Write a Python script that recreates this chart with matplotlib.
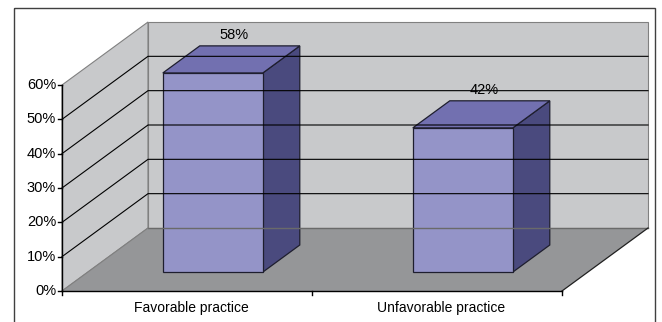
import matplotlib.pyplot as plt
from matplotlib.patches import Polygon, Rectangle

plt.rcParams['font.family'] = ['Liberation Sans', 'DejaVu Sans']

# datos
categorias = ['Favorable practice', 'Unfavorable practice']
valores = [58, 42]
ticks_y = [0, 10, 20, 30, 40, 50, 60]
etiquetas_y = ['0%', '10%', '20%', '30%', '40%', '50%', '60%']

# geometria del grafico 3D (pixeles)
x0, x1 = 62, 562          # eje frontal
y_piso = 291              # 0% frontal
esc = 206 / 60.0          # pixeles por %
prof = (86, -63)          # desplazamiento en profundidad
ymax = 60


def P(xc, v, d):
    # xc en unidades de categoria (0..2), v en %, d profundidad 0..1
    px = x0 + xc * (x1 - x0) / len(categorias) + d * prof[0]
    py = y_piso - v * esc + d * prof[1]
    return (px, py)


fig = plt.figure(figsize=(6.62, 3.22), dpi=100)
ax = fig.add_axes([0, 0, 1, 1])
ax.set_xlim(0, 662)
ax.set_ylim(322, 0)
ax.axis('off')

pared = '#c8c9cb'
piso = '#959698'
borde = '#808080'
n = len(categorias)

# marco exterior
ax.add_patch(Rectangle((14, 8), 641, 330, fill=False, ec='#404040', lw=1.0))

# pared izquierda
ax.add_patch(Polygon([P(0, 0, 0), P(0, ymax, 0), P(0, ymax, 1), P(0, 0, 1)],
                     fc=pared, ec=borde, lw=0.8))
# pared del fondo
ax.add_patch(Polygon([P(0, 0, 1), P(0, ymax, 1), P(n, ymax, 1), P(n, 0, 1)],
                     fc=pared, ec=borde, lw=0.8))

# grilla
for t in ticks_y[1:-1]:
    a, b, c = P(0, t, 0), P(0, t, 1), P(n, t, 1)
    ax.plot([a[0], b[0], c[0]], [a[1], b[1], c[1]], color='black', lw=0.8)

# piso
ax.add_patch(Polygon([P(0, 0, 0), P(n, 0, 0), P(n, 0, 1), P(0, 0, 1)],
                     fc=piso, ec='none'))
a, b = P(0, 0, 1), P(n, 0, 1)
ax.plot([a[0], b[0]], [a[1], b[1]], color='#6a6a6a', lw=1.0)
a, b = P(0, 0, 0), P(0, 0, 1)
ax.plot([a[0], b[0]], [a[1], b[1]], color=borde, lw=0.8)
a, b = P(n, 0, 0), P(n, 0, 1)
ax.plot([a[0], b[0]], [a[1], b[1]], color='#202020', lw=0.9)

# ejes
a, b = P(0, 0, 0), P(0, ymax, 0)
ax.plot([a[0], b[0]], [a[1], b[1]], color='black', lw=1.0)
a, b = P(0, 0, 0), P(n, 0, 0)
ax.plot([a[0], b[0]], [a[1], b[1]], color='black', lw=1.0)
for t, lab in zip(ticks_y, etiquetas_y):
    px, py = P(0, t, 0)
    ax.plot([px - 4, px], [py, py], color='black', lw=1.0)
    ax.text(px - 6, py, lab, ha='right', va='center', fontsize=10.5)
for i in range(n + 1):
    px, py = P(i, 0, 0)
    ax.plot([px, px], [py, py + 4], color='black', lw=1.0)

# barras
d0, d1 = 0.3, 0.73
for i, (v, cat) in enumerate(zip(valores, categorias)):
    xa, xb = i + 0.3, i + 0.7
    lado = [P(xb, 0, d0), P(xb, v, d0), P(xb, v, d1), P(xb, 0, d1)]
    techo = [P(xa, v, d0), P(xb, v, d0), P(xb, v, d1), P(xa, v, d1)]
    frente = [P(xa, 0, d0), P(xb, 0, d0), P(xb, v, d0), P(xa, v, d0)]
    ax.add_patch(Polygon(lado, fc='#4a4a7e', ec='#1e1e2e', lw=0.9))
    ax.add_patch(Polygon(techo, fc='#7270b0', ec='#1e1e2e', lw=0.9))
    ax.add_patch(Polygon(frente, fc='#9494c8', ec='#1e1e2e', lw=0.9))
    px, py = P(i + 0.5, v, d1)
    ax.text(px - 16, py - 11, f'{v}%', ha='center', va='center', fontsize=10.5)
    px, py = P(i + 0.5, 0, 0)
    ax.text(px + 4, py + 17, cat, ha='center', va='center', fontsize=10)

plt.savefig('out.png', dpi=100)
